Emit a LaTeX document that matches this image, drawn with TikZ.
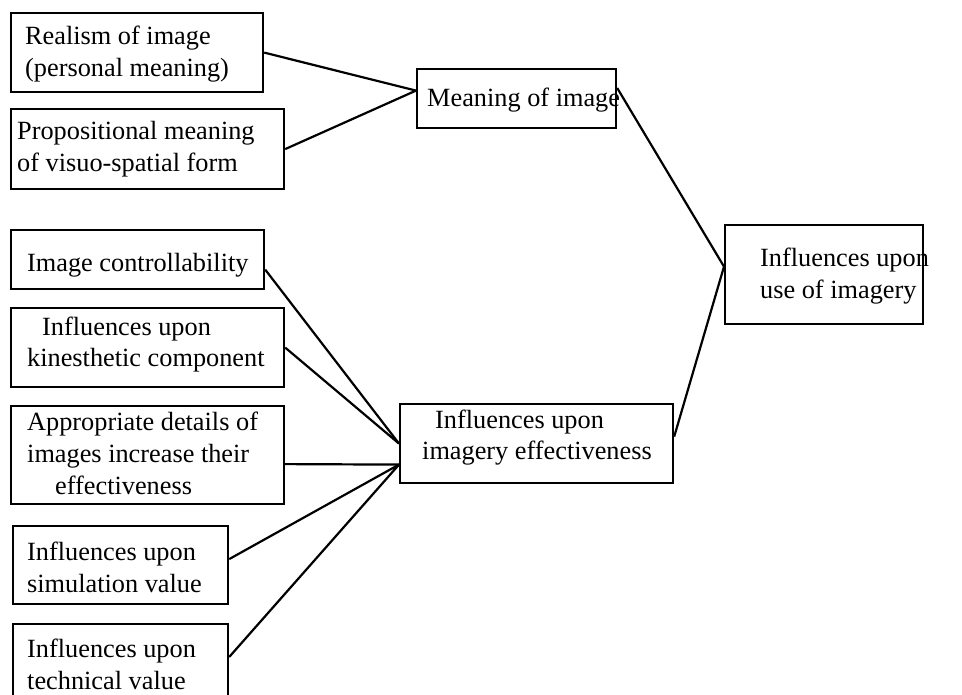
\documentclass[tikz,border=0pt]{standalone}
\usepackage{fontspec}
\setmainfont{Liberation Serif}
\usetikzlibrary{calc}
% multi-line text whose reference point is the first baseline
\newcommand\boxlines[1]{\parbox[t]{320pt}{#1}}
\begin{document}
\begin{tikzpicture}[x=1pt,y=-1pt,
  frame/.style={draw, line width=2.2pt, inner sep=0, anchor=north west},
  txt/.style={inner sep=0, anchor=base west, font=\fontsize{26.3}{32}\selectfont},
  link/.style={line width=2.2pt}]
\clip (0,0) rectangle (962,695);
\fill[white] (0,0) rectangle (962,695);

% frames
\node[frame, minimum width=252pt, minimum height=79pt] (b1) at (10,12) {};
\node[frame, minimum width=273pt, minimum height=80pt] (b2) at (10,108) {};
\node[frame, minimum width=199pt, minimum height=59pt] (bm) at (416,68) {};
\node[frame, minimum width=198pt, minimum height=99pt] (bu) at (724,224) {};
\node[frame, minimum width=253pt, minimum height=59pt] (bc) at (10,229) {};
\node[frame, minimum width=273pt, minimum height=79pt] (bk) at (10,307) {};
\node[frame, minimum width=273pt, minimum height=98pt] (ba) at (10,405) {};
\node[frame, minimum width=215pt, minimum height=78pt] (bs) at (12,525) {};
\node[frame, minimum width=215pt, minimum height=82pt] (bt) at (12,623) {};
\node[frame, minimum width=273pt, minimum height=79pt] (be) at (399,403) {};

% labels
\node[txt] (t1) at (25,45) {\boxlines{Realism of image\\(personal meaning)}};
\node[txt] (t2) at (17,140) {\boxlines{Propositional meaning\\of visuo-spatial form}};
\node[txt] (tm) at (427,107) {Meaning of image};
\node[txt] (tu) at (760,267) {\boxlines{Influences upon\\use of imagery}};
\node[txt] (tc) at (27,272) {Image controllability};
\node[txt] (tk) at (27,335) {\boxlines{\hspace*{15pt}Influences upon\\kinesthetic component}};
\node[txt] (ta) at (27,430) {\boxlines{Appropriate details of\\images increase their\\\hspace*{28pt}effectiveness}};
\node[txt] (ts) at (27,560) {\boxlines{Influences upon\\simulation value}};
\node[txt] (tt) at (27,657) {\boxlines{Influences upon\\technical value}};
\node[txt] (te) at (422,428) {\boxlines{\hspace*{13pt}Influences upon\\imagery effectiveness}};

% meeting points on the frame edges
\coordinate (cm) at ([yshift=8pt]bm.west);
\coordinate (cu) at ([yshift=8pt]bu.west);
\coordinate (ce1) at (be.west);
\coordinate (ce2) at ([yshift=-21pt]be.west);

% connectors
\draw[link] (b1.east) -- (cm);
\draw[link] (b2.east) -- (cm);
\draw[link] ([yshift=-20pt]bm.north east) -- (cu);
\draw[link] ([yshift=7pt]be.east) -- (cu);
\draw[link] ([yshift=-10pt]bc.east) -- (ce1);
\draw[link] (bk.east) -- (ce1);
\draw[link] ([yshift=-9pt]ba.east) -- (ce2);
\draw[link] ([yshift=6pt]bs.east) -- (ce2);
\draw[link] ([yshift=-34pt]bt.north east) -- (ce2);
\end{tikzpicture}
\end{document}
